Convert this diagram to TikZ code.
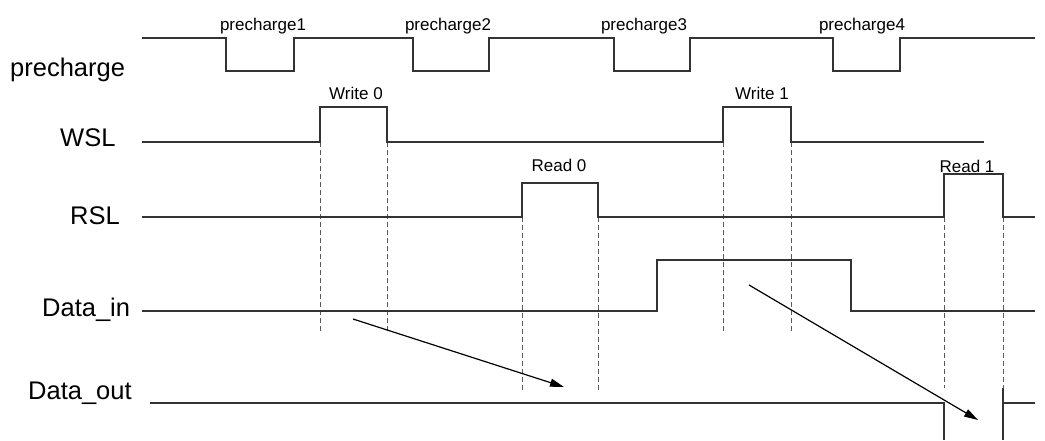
\documentclass[tikz,border=0pt]{standalone}
\usepackage{fontspec}
\setmainfont{Liberation Sans}
\usetikzlibrary{arrows.meta}
\begin{document}
\begin{tikzpicture}[x=1pt,y=-1pt,
  sig/.style={draw=black!80, line width=1.2pt, line join=miter},
  guide/.style={draw=black!65, line width=1pt, dash pattern=on 5pt off 3pt},
  big/.style={font=\fontsize{25.5}{28}\selectfont, anchor=base west, inner sep=0pt},
  small/.style={font=\fontsize{17}{19}\selectfont, anchor=base, inner sep=0pt},
  flow/.style={draw=black, line width=1.2pt, -{Triangle[length=14pt,width=8pt]}}]
\useasboundingbox (0,0) rectangle (1045,441);
\fill[white] (0,0) rectangle (1045,441);
% left labels
\node[big] (lpre) at (10,77) {precharge};
\node[big] (lwsl) at (60,147) {WSL};
\node[big] (lrsl) at (70,225) {RSL};
\node[big] (ldin) at (42,316) {Data\_in};
\node[big] (ldout) at (28,399) {Data\_out};
% pulse labels
\node[small] (p1) at (263,31) {precharge1};
\node[small] (p2) at (448,31) {precharge2};
\node[small] (p3) at (644,31) {precharge3};
\node[small] (p4) at (862,31) {precharge4};
\node[small] (w0) at (356,100) {Write 0};
\node[small] (w1) at (762,100) {Write 1};
\node[small] (r0) at (559,172) {Read 0};
\node[small] (r1) at (967,173) {Read 1};
% guides
\draw[guide] (320,142) -- (320,333);
\draw[guide] (387,142) -- (387,333);
\draw[guide] (723,142) -- (723,333);
\draw[guide] (791,142) -- (791,333);
\draw[guide] (522,217) -- (522,392);
\draw[guide] (598,217) -- (598,392);
\draw[guide] (944,217) -- (944,388);
\draw[guide] (1003,217) -- (1003,388);
% precharge
\draw[sig] (142,38) -- (226,38) -- (226,71) -- (294,71) -- (294,38)
  -- (413,38) -- (413,71) -- (489,71) -- (489,38)
  -- (614,38) -- (614,71) -- (690,71) -- (690,38)
  -- (833,38) -- (833,71) -- (900,71) -- (900,38) -- (1035,38);
% WSL
\draw[sig] (142,142) -- (320,142) -- (320,107) -- (387,107) -- (387,142)
  -- (723,142) -- (723,107) -- (791,107) -- (791,142) -- (984,142);
% RSL
\draw[sig] (142,217) -- (522,217) -- (522,183) -- (598,183) -- (598,217)
  -- (944,217) -- (944,174) -- (1003,174) -- (1003,217) -- (1035,217);
% Data_in
\draw[sig] (142,311) -- (657,311) -- (657,260) -- (851,260) -- (851,311) -- (1035,311);
% Data_out
\draw[sig] (150,403) -- (944,403) -- (944,440);
\draw[sig] (1003,388) -- (1003,440);
\draw[sig] (1003,403) -- (1035,403);
% arrows
\coordinate (a1s) at (353,319);
\coordinate (a1e) at (564,387);
\coordinate (a2s) at (749,285);
\coordinate (a2e) at (978,420);
\draw[flow] (a1s) -- (a1e);
\draw[flow] (a2s) -- (a2e);
\end{tikzpicture}
\end{document}
